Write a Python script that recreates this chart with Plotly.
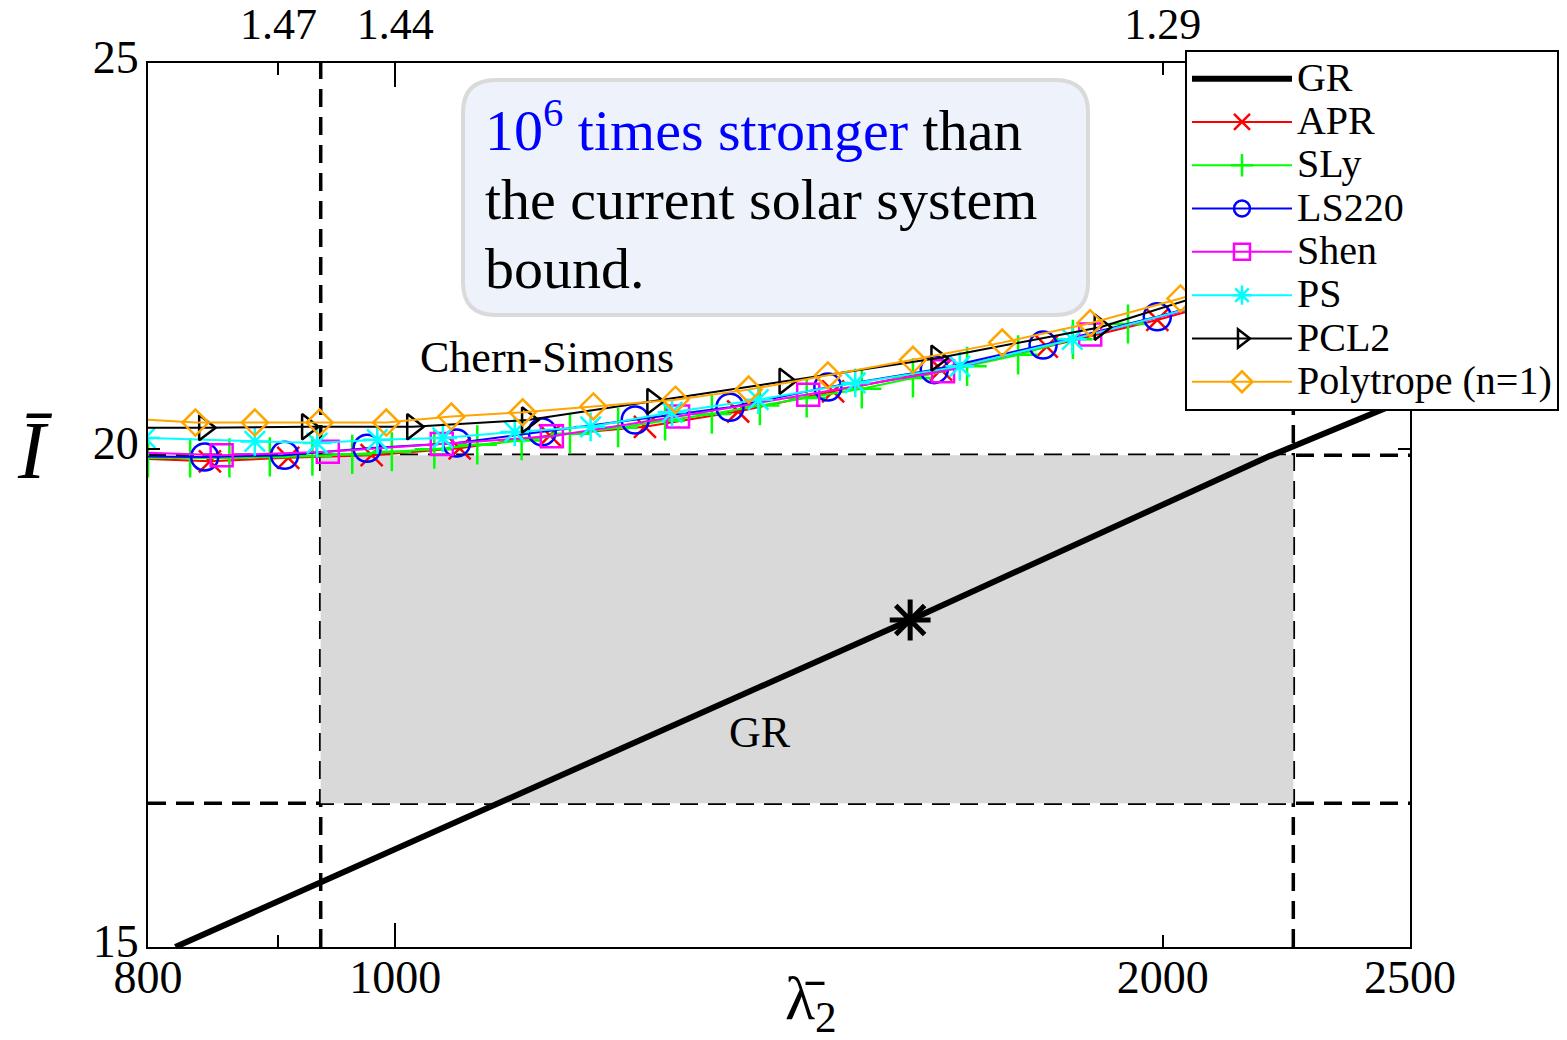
import math
import plotly.graph_objects as go

# ---- Chern-Simons I-Love curves, one per equation of state ----
apr_lam = [780, 846, 908, 979, 1060, 1150, 1253, 1363, 1485, 1637, 1801, 1990, 2244]
apr_I = [19.90, 19.86, 19.90, 19.93, 20.01, 20.16, 20.26, 20.44, 20.68, 20.94, 21.22, 21.55, 22.02]

sly_lam = [800, 831, 861, 893, 928, 962, 997, 1036, 1077, 1121, 1171, 1223, 1276, 1331,
           1390, 1450, 1524, 1596, 1676, 1755, 1844, 1938, 2244]
sly_I = [19.90, 19.90, 19.90, 19.91, 19.92, 19.94, 19.97, 20.00, 20.05, 20.10, 20.18, 20.25,
         20.33, 20.41, 20.51, 20.60, 20.71, 20.84, 20.98, 21.12, 21.31, 21.50, 22.00]

ls220_lam = [780, 842, 905, 975, 1057, 1142, 1242, 1353, 1478, 1627, 1795, 1990, 2244]
ls220_I = [19.92, 19.91, 19.93, 20.01, 20.07, 20.20, 20.34, 20.49, 20.73, 20.94, 21.24, 21.59, 22.05]

shen_lam = [780, 855, 941, 1043, 1152, 1291, 1452, 1640, 1873, 2244]
shen_I = [19.97, 19.93, 19.97, 20.06, 20.15, 20.38, 20.64, 20.92, 21.37, 22.00]

ps_lam = [798, 881, 932, 984, 1044, 1114, 1193, 1284, 1388, 1515, 1665, 1843, 2244]
ps_I = [20.13, 20.09, 20.07, 20.11, 20.13, 20.20, 20.26, 20.43, 20.58, 20.78, 20.98, 21.31, 22.03]

pcl2_lam = [780, 842, 924, 1016, 1127, 1262, 1422, 1631, 1890, 2244]
pcl2_I = [20.25, 20.25, 20.26, 20.26, 20.34, 20.56, 20.80, 21.08, 21.46, 22.21]

poly_lam = [780, 835, 881, 934, 992, 1052, 1122, 1196, 1288, 1376, 1478, 1596, 1730, 1873, 2032, 2244]
poly_I = [20.36, 20.31, 20.31, 20.31, 20.31, 20.38, 20.43, 20.50, 20.58, 20.70, 20.87, 21.06,
          21.27, 21.51, 21.82, 22.25]

# ---- General relativity relation and the measured point ----
gr_lam = [820, 935, 1592, 2198, 2500]
gr_I = [15.00, 15.57, 18.12, 19.91, 20.60]
gr_point_lam = [1592]
gr_point_I = [18.12]

# ---- Allowed region (dashed bounds and shaded box) ----
lam_bounds = [935, 2250]
I_bounds = [16.30, 19.93]

# ---- Axis ticks ----
x_range = [800, 2500]
y_range = [15, 25]
x_ticks = [800, 1000, 2000, 2500]
x_tick_text = ["800", "1000", "2000", "2500"]
x_minor_ticks = [900]
x_major_ticks = [1000]
top_ticks = [900, 1000, 2000]
top_tick_text = ["1.47", "1.44", "1.29"]
y_ticks = [15, 20, 25]
y_tick_text = ["15", "20", "25"]

# ---- Text box lines ----
box_lines = [
    "<span style='color:#0000ff'>10<sup>6</sup> times stronger</span> than",
    "the current solar system",
    "bound.",
]

SERIF = "Liberation Serif"
LEG = "<span style='font-size:40px'>{}</span>"

eos_series = [
    ("APR", apr_lam, apr_I, "#ff0000", "x-thin-open", 22),
    ("SLy", sly_lam, sly_I, "#00ff00", "cross-thin-open", 28),
    ("LS220", ls220_lam, ls220_I, "#0000ff", "circle-open", 27),
    ("Shen", shen_lam, shen_I, "#ff00ff", "square-open", 22),
    ("PS", ps_lam, ps_I, "#00ffff", "asterisk-open", 24),
    ("PCL2", pcl2_lam, pcl2_I, "#000000", "triangle-right-open", 22),
    ("Polytrope (n=1)", poly_lam, poly_I, "#ffa500", "diamond-open", 20),
]

fig = go.Figure()

fig.add_trace(go.Scatter(
    x=gr_lam, y=gr_I, mode="lines", name=LEG.format("GR"),
    line=dict(color="black", width=6), hoverinfo="skip",
))

for name, lam, inertia, color, symbol, size in eos_series:
    fig.add_trace(go.Scatter(
        x=lam, y=inertia, mode="lines+markers", name=LEG.format(name),
        line=dict(color=color, width=2),
        marker=dict(symbol=symbol, size=size, color=color,
                    line=dict(color=color, width=2.5)),
    ))

fig.add_trace(go.Scatter(
    x=gr_point_lam, y=gr_point_I, mode="markers", showlegend=False,
    marker=dict(symbol="asterisk-open", size=34, color="black",
                line=dict(color="black", width=5)),
))

# helper traces so the extra x axes get drawn
fig.add_trace(go.Scatter(x=[None], y=[None], xaxis="x2", showlegend=False, hoverinfo="skip"))
fig.add_trace(go.Scatter(x=[None], y=[None], xaxis="x3", showlegend=False, hoverinfo="skip"))

dash = "18px,10px"
shapes = [
    dict(type="rect", xref="x", yref="y", x0=lam_bounds[0], x1=lam_bounds[1],
         y0=I_bounds[0], y1=I_bounds[1], fillcolor="#d9d9d9", line=dict(width=0), layer="below"),
]
for lb in lam_bounds:
    shapes.append(dict(type="line", xref="x", yref="paper", x0=lb, x1=lb, y0=0, y1=1,
                       line=dict(color="black", width=3.5, dash=dash), layer="below"))
for ib in I_bounds:
    shapes.append(dict(type="line", xref="paper", yref="y", x0=0, x1=1, y0=ib, y1=ib,
                       line=dict(color="black", width=3.5, dash=dash), layer="below"))

# rounded text box
bx0, bx1, by0, by1 = 0.2496, 0.7449, 0.7149, 0.9808
rx, ry = 0.026, 0.037
box_path = (
    f"M{bx0 + rx},{by1} L{bx1 - rx},{by1} Q{bx1},{by1} {bx1},{by1 - ry} "
    f"L{bx1},{by0 + ry} Q{bx1},{by0} {bx1 - rx},{by0} "
    f"L{bx0 + rx},{by0} Q{bx0},{by0} {bx0},{by0 + ry} "
    f"L{bx0},{by1 - ry} Q{bx0},{by1} {bx0 + rx},{by1} Z"
)
shapes.append(dict(type="path", xref="paper", yref="paper", path=box_path,
                   fillcolor="#eef2fa", line=dict(color="#dadada", width=4), layer="below"))

annotations = []
for line_text, ypos in zip(box_lines, [0.928, 0.846, 0.768]):
    annotations.append(dict(
        xref="paper", yref="paper", x=0.2655, y=ypos, xanchor="left", yanchor="middle",
        align="left", showarrow=False, font=dict(family=SERIF, size=58, color="black"),
        text=line_text))

annotations += [
    dict(xref="paper", yref="paper", x=0.3162, y=0.6674, xanchor="center", yanchor="middle",
         showarrow=False, font=dict(family=SERIF, size=44, color="black"), text="Chern-Simons"),
    dict(xref="paper", yref="paper", x=0.485, y=0.2432, xanchor="center", yanchor="middle",
         showarrow=False, font=dict(family=SERIF, size=44, color="black"), text="GR"),
    dict(xref="paper", yref="paper", x=-0.0895, y=0.562, xanchor="center", yanchor="middle",
         showarrow=False, font=dict(family=SERIF, size=82, color="black"), text="<i>\u012a</i>"),
    dict(xref="paper", yref="paper", x=0.525, y=-0.063, xanchor="center", yanchor="middle",
         showarrow=False, font=dict(family=SERIF, size=62, color="black"),
         text="\u03bb\u0304<sub>2</sub>"),
]

log_range = [math.log10(x_range[0]), math.log10(x_range[1])]
axis_common = dict(type="log", range=log_range, showgrid=False, zeroline=False)

fig.update_layout(
    width=1567, height=1040,
    margin=dict(l=148, r=157, t=63, b=93, autoexpand=False),
    paper_bgcolor="white", plot_bgcolor="white",
    font=dict(family=SERIF, size=46, color="black"),
    xaxis=dict(**axis_common, tickmode="array", tickvals=x_ticks, ticktext=x_tick_text,
               ticks="inside", ticklen=12, tickwidth=2, tickcolor="black",
               showline=True, linewidth=2, linecolor="black", mirror="ticks",
               minor=dict(tickmode="array", tickvals=x_minor_ticks, ticks="inside",
                          ticklen=12, tickwidth=2, tickcolor="black", showgrid=False),
               tickfont=dict(family=SERIF, size=46), ticklabelstandoff=-11),
    xaxis2=dict(**axis_common, overlaying="x", side="top", anchor="y",
                tickmode="array", tickvals=top_ticks, ticktext=top_tick_text,
                ticks="", showline=False, tickfont=dict(family=SERIF, size=44),
                ticklabelstandoff=14),
    xaxis3=dict(**axis_common, overlaying="x", side="bottom", anchor="y",
                tickmode="array", tickvals=x_major_ticks, showticklabels=False,
                ticks="inside", ticklen=24, tickwidth=2, tickcolor="black",
                showline=False, mirror="ticks"),
    yaxis=dict(type="log", range=[math.log10(y_range[0]), math.log10(y_range[1])],
               tickmode="array", tickvals=y_ticks, ticktext=y_tick_text,
               ticks="inside", ticklen=12, tickwidth=2, tickcolor="black",
               showline=True, linewidth=2, linecolor="black", mirror="ticks",
               showgrid=False, zeroline=False, ticklabelshift=-6,
               tickfont=dict(family=SERIF, size=46), ticklabelstandoff=-2),
    legend=dict(x=0.8217, y=1.0147, xanchor="left", yanchor="top",
                bgcolor="white", bordercolor="black", borderwidth=2,
                font=dict(family=SERIF, size=31, color="black"),
                itemwidth=100, tracegroupgap=0),
    shapes=shapes,
    annotations=annotations,
)

fig.write_html("out.html")
